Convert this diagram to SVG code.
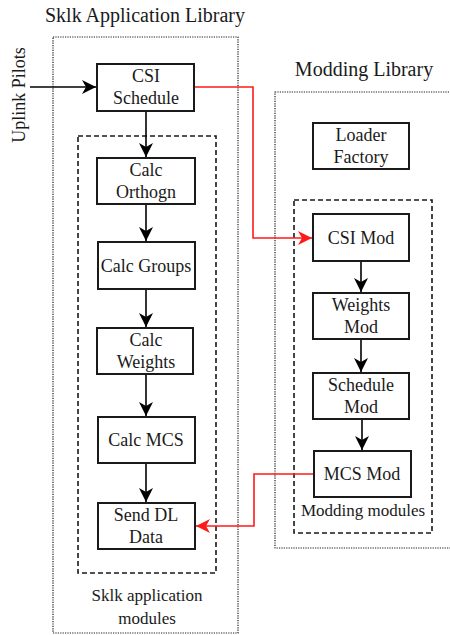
<svg xmlns="http://www.w3.org/2000/svg" width="450" height="635" viewBox="0 0 450 635">
<style>
.box{fill:#fff;stroke:#1a1a1a;stroke-width:2}
.dot{fill:none;stroke:#1a1a1a;stroke-width:1.2;stroke-dasharray:1.2 1.2}
.dash{fill:none;stroke:#1a1a1a;stroke-width:1.6;stroke-dasharray:5 3}
.k{fill:none;stroke:#000;stroke-width:1.6}
.r{fill:none;stroke:#ff1a1a;stroke-width:1.6}
</style>
<defs>
<marker id="ak" markerUnits="userSpaceOnUse" markerWidth="16" markerHeight="14" refX="14" refY="7" orient="auto">
<path d="M0,0 L14,7 L0,14 L4,7 z" fill="#000"/>
</marker>
<marker id="ar" markerUnits="userSpaceOnUse" markerWidth="16" markerHeight="14" refX="14" refY="7" orient="auto">
<path d="M0,0 L14,7 L0,14 L4,7 z" fill="#ff1a1a"/>
</marker>
</defs>
<rect width="450" height="635" fill="#fff"/>
<g font-family="Liberation Serif" fill="#1a1a1a" text-anchor="middle">
<g id="sklk-library">
<rect class="dot" x="53" y="37" width="185" height="596"/>
<text x="145" y="22" font-size="20">Sklk Application Library</text>
</g>
<g id="sklk-modules">
<rect class="dash" x="78" y="136" width="138" height="437"/>
<text x="147" y="601" font-size="17">Sklk application</text>
<text x="147" y="624" font-size="17">modules</text>
</g>
<g id="modding-library">
<rect class="dot" x="275" y="92" width="185" height="456"/>
<text x="364" y="76" font-size="20">Modding Library</text>
</g>
<g id="modding-modules">
<rect class="dash" x="294" y="200" width="138" height="333"/>
<text x="363" y="516" font-size="17">Modding modules</text>
</g>
<g id="uplink-pilots">
<text transform="translate(25,95) rotate(-90)" x="0" y="0" font-size="18">Uplink Pilots</text>
</g>
<g id="connectors">
<path class="k" d="M30,87 H96" marker-end="url(#ak)"/>
<path class="k" d="M146,111 V157" marker-end="url(#ak)"/>
<path class="k" d="M146,204 V241" marker-end="url(#ak)"/>
<path class="k" d="M146,289 V327" marker-end="url(#ak)"/>
<path class="k" d="M146,374 V416" marker-end="url(#ak)"/>
<path class="k" d="M146,463 V502" marker-end="url(#ak)"/>
<path class="k" d="M361,261 V292" marker-end="url(#ak)"/>
<path class="k" d="M361,339 V372" marker-end="url(#ak)"/>
<path class="k" d="M362,419 V450" marker-end="url(#ak)"/>
<path class="r" d="M195,87 H253 V238 H312" marker-end="url(#ar)"/>
<path class="r" d="M314,474 H254 V526 H196" marker-end="url(#ar)"/>
</g>
<g id="csi-schedule" font-size="18">
<rect class="box" x="97" y="64" width="97" height="47"/>
<text x="146" y="82">CSI</text>
<text x="146" y="104">Schedule</text>
</g>
<g id="calc-orthogn" font-size="18">
<rect class="box" x="97" y="158" width="98" height="46"/>
<text x="146" y="176">Calc</text>
<text x="146" y="198">Orthogn</text>
</g>
<g id="calc-groups" font-size="18">
<rect class="box" x="98" y="242" width="97" height="47"/>
<text x="146" y="272">Calc Groups</text>
</g>
<g id="calc-weights" font-size="18">
<rect class="box" x="97" y="328" width="96" height="46"/>
<text x="146" y="346">Calc</text>
<text x="146" y="368">Weights</text>
</g>
<g id="calc-mcs" font-size="18">
<rect class="box" x="98" y="417" width="97" height="46"/>
<text x="146" y="446">Calc MCS</text>
</g>
<g id="send-dl-data" font-size="18">
<rect class="box" x="98" y="503" width="97" height="46"/>
<text x="146" y="521">Send DL</text>
<text x="146" y="543">Data</text>
</g>
<g id="loader-factory" font-size="18">
<rect class="box" x="313" y="123" width="96" height="46"/>
<text x="361" y="141">Loader</text>
<text x="361" y="163">Factory</text>
</g>
<g id="csi-mod" font-size="18">
<rect class="box" x="313" y="214" width="96" height="47"/>
<text x="361" y="244">CSI Mod</text>
</g>
<g id="weights-mod" font-size="18">
<rect class="box" x="313" y="293" width="96" height="46"/>
<text x="361" y="311">Weights</text>
<text x="361" y="333">Mod</text>
</g>
<g id="schedule-mod" font-size="18">
<rect class="box" x="313" y="373" width="96" height="46"/>
<text x="361" y="391">Schedule</text>
<text x="361" y="413">Mod</text>
</g>
<g id="mcs-mod" font-size="18">
<rect class="box" x="314" y="451" width="97" height="46"/>
<text x="362" y="480">MCS Mod</text>
</g>
</g>
</svg>
